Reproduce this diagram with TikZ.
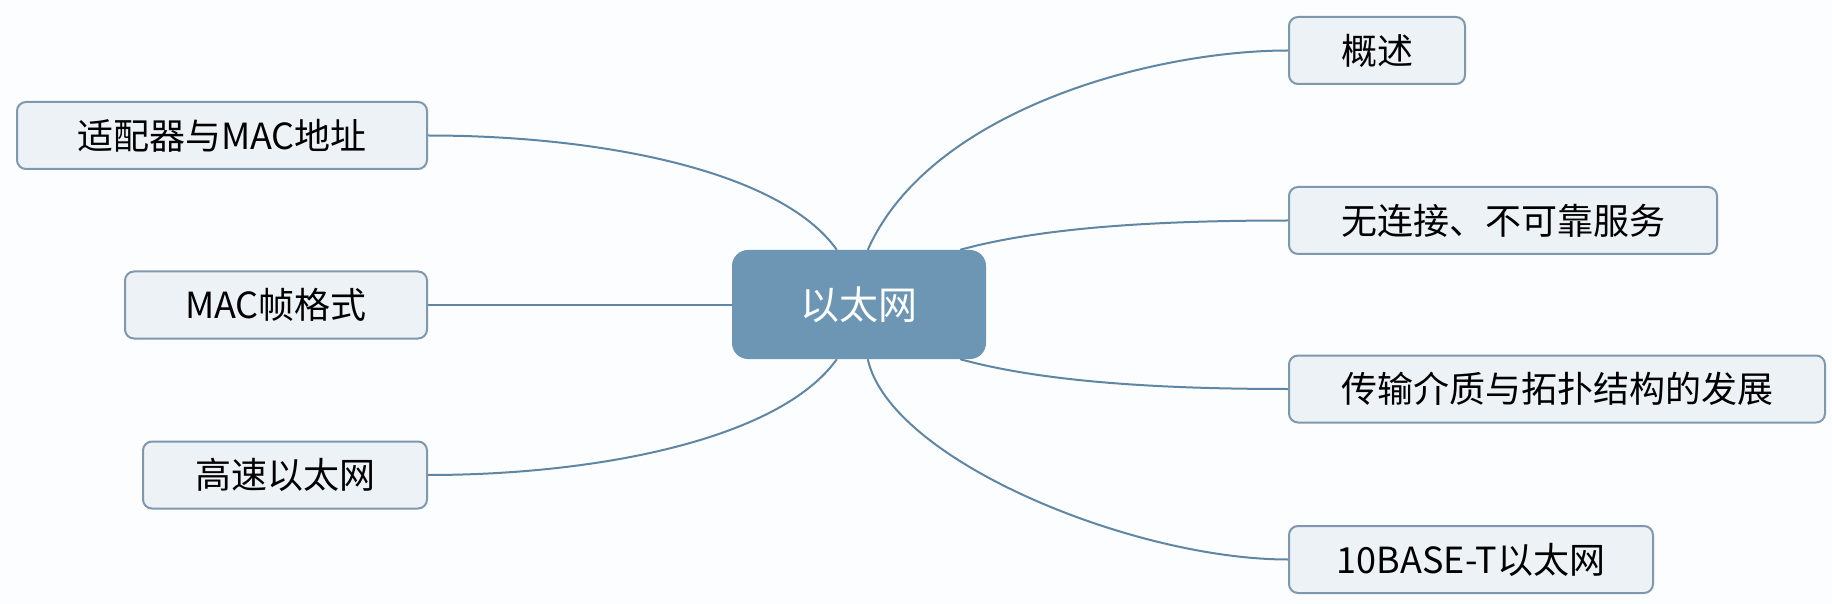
\documentclass[tikz,border=0pt]{standalone}
\usepackage{fontspec}
\setmainfont{Noto Sans CJK SC}
\usetikzlibrary{backgrounds}
\definecolor{centerfill}{HTML}{6C96B4}
\definecolor{linkcol}{HTML}{5F86A4}
\definecolor{leafdraw}{HTML}{7F98AE}
\definecolor{leaffill}{HTML}{EDF2F7}
\definecolor{bgcol}{HTML}{FCFDFE}
\tikzset{
  leaf/.style={draw=leafdraw, fill=leaffill, line width=2pt, rounded corners=9pt,
    inner sep=0pt, minimum height=67pt, text=black,
    font=\fontsize{36}{43}\selectfont},
  hub/.style={fill=centerfill, rounded corners=16pt, inner sep=0pt,
    minimum width=254pt, minimum height=109pt, text=white,
    font=\fontsize{39}{47}\selectfont},
  link/.style={draw=linkcol, line width=2pt}
}
\begin{document}
\begin{tikzpicture}[x=1pt,y=-1pt]
\useasboundingbox (0,0) rectangle (1832,604);
\begin{scope}[on background layer]
\fill[bgcol] (0,0) rectangle (1832,604);
\end{scope}
\node[hub] (hub) at (859,304.5) {以太网};
\node[leaf, minimum width=410pt] (adapt) at (222,135.5) {适配器与MAC地址};
\node[leaf, minimum width=302pt] (frame) at (276,305) {MAC帧格式};
\node[leaf, minimum width=284pt] (fast) at (285,475) {高速以太网};
\node[leaf, minimum width=176pt] (intro) at (1377,50.5) {概述};
\node[leaf, minimum width=428pt] (conn) at (1503,220.5) {无连接、不可靠服务};
\node[leaf, minimum width=536pt] (media) at (1557,389) {传输介质与拓扑结构的发展};
\node[leaf, minimum width=364pt] (tbase) at (1471,559.5) {10BASE-T以太网};
\begin{scope}[on background layer]
\draw[link] (adapt.east) .. controls +(170,0) and +(-57,-80) .. ([xshift=105pt]hub.north west);
\draw[link] (frame.east) -- (frame.east -| hub.west);
\draw[link] (fast.east) .. controls +(170,0) and +(-57,80) .. ([xshift=105pt]hub.south west);
\draw[link] ([xshift=136pt]hub.north west) .. controls +(62,-140) and +(-135,0) .. (intro.west);
\draw[link] ([xshift=-26pt]hub.north east) .. controls +(80,-22) and +(-135,0) .. (conn.west);
\draw[link] ([xshift=-26pt]hub.south east) .. controls +(80,22) and +(-135,0) .. (media.west);
\draw[link] ([xshift=136pt]hub.south west) .. controls +(22,101) and +(-155,0) .. (tbase.west);
\end{scope}
\end{tikzpicture}
\end{document}
